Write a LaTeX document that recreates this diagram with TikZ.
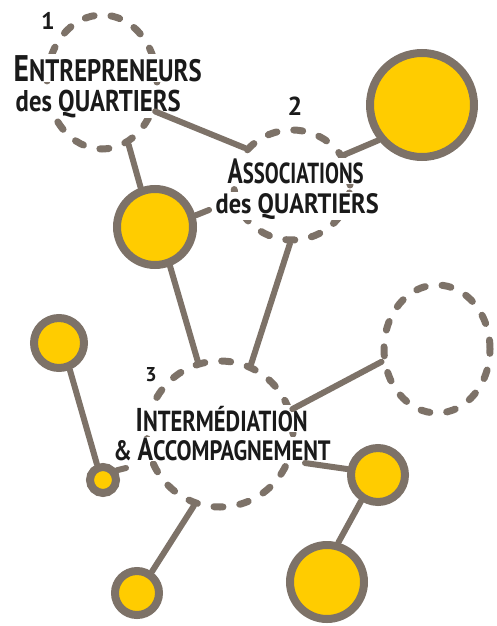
\documentclass[tikz,border=0pt]{standalone}
\usepackage{fontspec}
\setmainfont{PT Sans}
\usetikzlibrary{shapes.geometric}
\definecolor{ringgray}{HTML}{7D7268}
\definecolor{sun}{HTML}{FFCC00}
\definecolor{ink}{HTML}{1A1A1A}
\begin{document}
\begin{tikzpicture}[x=1pt,y=-1pt,
  sunring/.style={circle, draw=ringgray, fill=sun, line width=8pt, inner sep=0pt},
  dashring/.style={ellipse, draw=ringgray, line width=7pt, line cap=round, dash pattern=on 9pt off 17pt, inner sep=0pt},
  link/.style={draw=ringgray, line width=6pt, line cap=round},
  lbl/.style={text=ink, fill=white, inner xsep=1.5pt, inner ysep=0.6pt, anchor=base west, font=\bfseries},
  num/.style={text=ink, font=\bfseries, inner sep=0pt, anchor=base},
]
\useasboundingbox (0,0) rectangle (496,626);
% dashed rings
\node[dashring, minimum width=110pt, minimum height=134pt] (c1) at (102,82) {};
\node[dashring, minimum width=116pt, minimum height=110pt] (c2) at (292,185) {};
\node[dashring, minimum width=146pt, minimum height=146pt] (c3) at (220,434) {};
\node[dashring, minimum width=106pt, minimum height=128pt] (c4) at (437,349) {};
% labels
\node[lbl] (t1a) at (12,81) {\resizebox{188pt}{\height}{\fontsize{31}{31}\selectfont{\fontsize{37}{37}\selectfont E}NTREPRENEURS}};
\node[lbl] (t1b) at (14,111) {\resizebox{165pt}{\height}{\fontsize{30}{30}\selectfont des QUARTIERS}};
\node[lbl] (t2a) at (226,183) {\resizebox{136pt}{\height}{\fontsize{29}{29}\selectfont{\fontsize{35}{35}\selectfont A}SSOCIATIONS}};
\node[lbl] (t2b) at (214,213) {\resizebox{163pt}{\height}{\fontsize{28}{28}\selectfont des QUARTIERS}};
\node[lbl] (t3a) at (134,431) {\resizebox{172pt}{\height}{\fontsize{29}{29}\selectfont{\fontsize{33}{33}\selectfont I}NTERMÉDIATION}};
\node[lbl] (t3b) at (112,460) {\resizebox{217pt}{\height}{\fontsize{28}{28}\selectfont \& {\fontsize{32}{32}\selectfont A}CCOMPAGNEMENT}};
\node[num] (n1) at (48,30) {\fontsize{24}{24}\selectfont 1};
\node[num] (n2) at (295,115) {\fontsize{26}{26}\selectfont 2};
\node[num] (n3) at (151,381) {\fontsize{20}{20}\selectfont 3};
% yellow rings
\node[sunring, minimum size=104pt] (ytr) at (422,105) {};
\node[sunring, minimum size=76pt] (ylm) at (155,227) {};
\node[sunring, minimum size=50pt] (ytl) at (59,343) {};
\node[sunring, minimum size=26pt] (ysm) at (103,480) {};
\node[sunring, minimum size=44pt] (ybl) at (137,593) {};
\node[sunring, minimum size=54pt] (ymr) at (378,475) {};
\node[sunring, minimum size=74pt] (ybr) at (327,582) {};
% free ends
\coordinate (desstub) at (209,210);
\coordinate (mstart) at (305,463);
\coordinate (amp) at (126,468);
% connectors
\draw[link] (c1.-67) -- (ylm.110);
\draw[link] (c1.-29) -- (c2.142);
\draw[link] (c2.30) -- (ytr.219);
\draw[link] (ylm.16) -- (desstub);
\draw[link] (ylm.-69) -- (c3.107);
\draw[link] (c2.-92) -- (c3.66);
\draw[link] (c3.19) -- (c4.193);
\draw[link] (mstart) -- (ymr.169);
\draw[link] (ymr.237) -- (ybr.74);
\draw[link] (ytl.-68) -- (ysm.111);
\draw[link] (ysm.35) -- (amp);
\draw[link] (ybl.55) -- (c3.250);
\end{tikzpicture}
\end{document}
